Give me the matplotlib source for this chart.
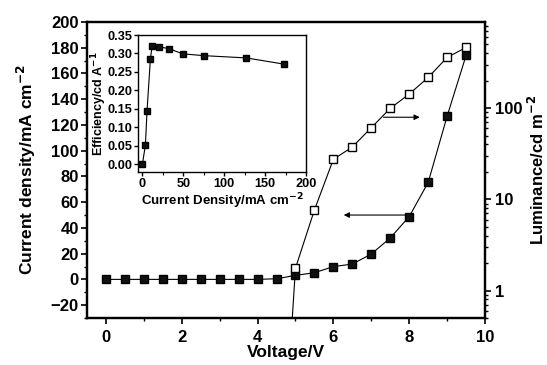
import numpy as np
import matplotlib
matplotlib.use('Agg')
import matplotlib.pyplot as plt
from matplotlib.ticker import MultipleLocator, FormatStrFormatter

plt.rcParams['font.family'] = ['Liberation Sans', 'DejaVu Sans']
plt.rcParams['font.weight'] = 'bold'
plt.rcParams['axes.labelweight'] = 'bold'
plt.rcParams['mathtext.default'] = 'bf'

# current density vs voltage (filled squares, left axis)
voltage = [0, 0.5, 1, 1.5, 2, 2.5, 3, 3.5, 4, 4.5, 5, 5.5, 6, 6.5, 7, 7.5, 8, 8.5, 9, 9.5]
current = [0, 0, 0, 0, 0, 0, 0, 0, 0, 0.5, 3.1, 5.2, 9.9, 11.9, 19.7, 32.2, 48.8, 75.3, 126.8, 174]

# luminance vs voltage (open squares, right log axis)
lum_voltage = [4.5, 5, 5.5, 6, 6.5, 7, 7.5, 8, 8.5, 9, 9.5]
luminance = [0.001, 1.76, 7.65, 27.5, 37.5, 61, 99.5, 142.6, 217, 360, 463]

# inset: efficiency vs current density
eff_current = [0, 3.7, 5.7, 9.8, 11.9, 20.4, 32.6, 49.3, 75.8, 127, 173.5]
efficiency = [0, 0.052, 0.145, 0.285, 0.320, 0.318, 0.313, 0.299, 0.294, 0.288, 0.271]

fig = plt.figure(figsize=(5.47, 3.65), dpi=100)
ax = fig.add_axes([0.159, 0.1288, 0.7277, 0.8109])

ax.plot(voltage, current, 's-', color='black', mfc='#111111', mec='black',
        ms=5.3, lw=0.8)
ax.set_xlim(-0.5, 10)
ax.set_ylim(-30, 200)
ax.xaxis.set_major_locator(MultipleLocator(2))
ax.xaxis.set_minor_locator(MultipleLocator(1))
ax.yaxis.set_major_locator(MultipleLocator(20))
ax.yaxis.set_minor_locator(MultipleLocator(10))
ax.set_xlabel('Voltage/V', fontsize=12.5, labelpad=0)
ax.set_ylabel('Current density/mA cm$^{-2}$', fontsize=12.5, labelpad=9)
ax.tick_params(axis='both', which='major', labelsize=12, width=1.2, length=4, pad=2)
ax.tick_params(axis='both', which='minor', width=1.0, length=2.5)
ax.tick_params(axis='x', pad=5)

ax2 = ax.twinx()
ax2.set_yscale('log')
ax2.plot(lum_voltage, luminance, 's-', color='black', mfc='white', mec='black',
         ms=5.8, lw=0.8)
ax2.set_ylim(0.5, 880)
ax2.set_ylabel('Luminance/cd m$^{-2}$', fontsize=12, labelpad=3)
ax2.set_yticks([1, 10, 100])
ax2.set_yticklabels(['1', '10', '100'])
ax2.tick_params(axis='y', which='major', labelsize=12, width=1.2, length=4, pad=3)
ax2.tick_params(axis='y', which='minor', width=1.0, length=2.5)

for a in (ax, ax2):
    for s in a.spines.values():
        s.set_linewidth(1.6)

ax.annotate('', xy=(8.35, 126), xytext=(7.25, 126),
            arrowprops=dict(arrowstyle='-|>', color='black', lw=0.8,
                            mutation_scale=8))
ax.annotate('', xy=(6.2, 50), xytext=(8.0, 50),
            arrowprops=dict(arrowstyle='-|>', color='black', lw=0.8,
                            mutation_scale=8))

ins = fig.add_axes([0.2528, 0.5296, 0.3066, 0.3745])
ins.plot(eff_current, efficiency, 's-', color='black', mfc='#111111', mec='black',
         ms=4.2, lw=0.8)
ins.set_xlim(-5, 200)
ins.set_ylim(-0.02, 0.35)
ins.xaxis.set_major_locator(MultipleLocator(50))
ins.xaxis.set_minor_locator(MultipleLocator(25))
ins.yaxis.set_major_locator(MultipleLocator(0.05))
ins.yaxis.set_major_formatter(FormatStrFormatter('%.2f'))
ins.set_xlabel('Current Density/mA cm$^{-2}$', fontsize=9.5, labelpad=1)
ins.set_ylabel('Efficiency/cd A$^{-1}$', fontsize=9)
ins.yaxis.set_label_coords(-0.235, 0.5)
ins.yaxis.label.set_verticalalignment('center')
ins.tick_params(axis='both', which='major', labelsize=9.2, width=1.0, length=3, pad=1.5)
ins.tick_params(axis='both', which='minor', width=0.8, length=2)
for s in ins.spines.values():
    s.set_linewidth(1.0)

fig.savefig('out.png', dpi=100)
